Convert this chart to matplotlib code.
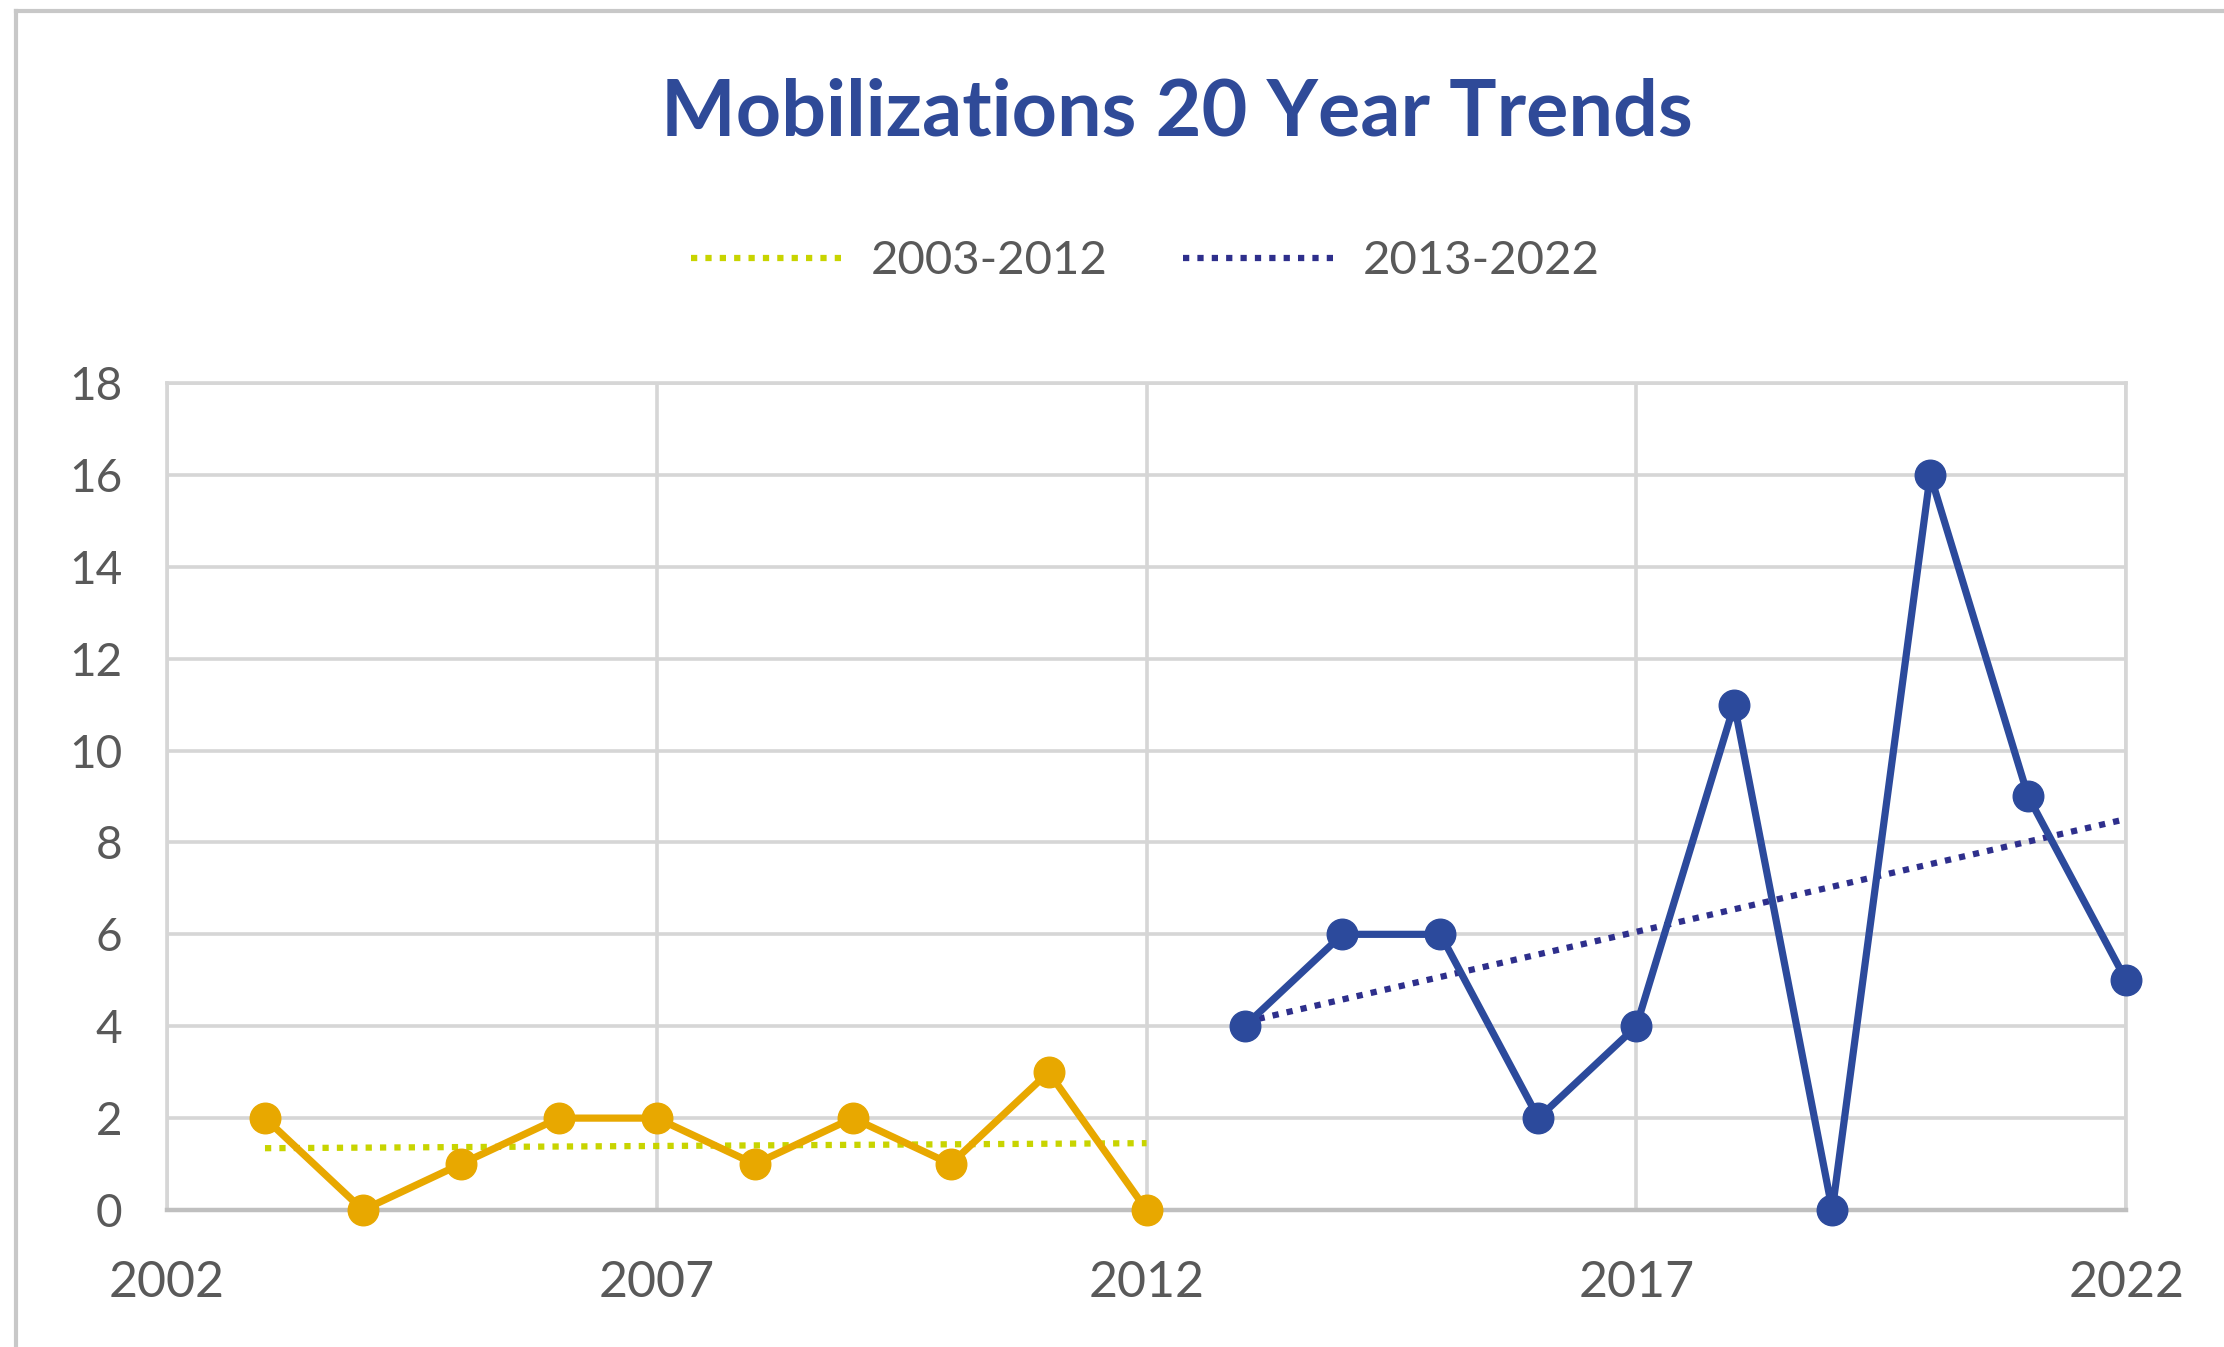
import numpy as np
import matplotlib
matplotlib.use('Agg')
import matplotlib.pyplot as plt
from matplotlib.lines import Line2D

# values
years_a = [2003, 2004, 2005, 2006, 2007, 2008, 2009, 2010, 2011, 2012]
mob_a = [2, 0, 1, 2, 2, 1, 2, 1, 3, 0]
years_b = [2013, 2014, 2015, 2016, 2017, 2018, 2019, 2020, 2021, 2022]
mob_b = [4, 6, 6, 2, 4, 11, 0, 16, 9, 5]
x_ticks = [2002, 2007, 2012, 2017, 2022]
y_ticks = [0, 2, 4, 6, 8, 10, 12, 14, 16, 18]
legend_labels = ['2003-2012', '2013-2022']

gold = '#E8A800'
navy = '#2C4A9C'
trend_a_col = '#C8D400'
trend_b_col = '#2E2F8C'
txt_col = '#595959'

plt.rcParams['font.family'] = ['Lato', 'DejaVu Sans']

fig = plt.figure(figsize=(22.24, 13.47), dpi=100)
ax = fig.add_axes([0.0751, 0.1017, 0.8809, 0.614])

# linear trend lines, like excel
fa = np.polyfit(years_a, mob_a, 1)
fb = np.polyfit(years_b, mob_b, 1)
ax.plot(years_a, np.polyval(fa, years_a), color=trend_a_col, lw=4.5,
        linestyle=(0, (1, 1.3)), zorder=3)
ax.plot(years_b, np.polyval(fb, years_b), color=trend_b_col, lw=4.5,
        linestyle=(0, (1, 1.3)), zorder=3)

ax.plot(years_a, mob_a, color=gold, lw=5.2, marker='o', markersize=22,
        clip_on=False, zorder=4)
ax.plot(years_b, mob_b, color=navy, lw=5.2, marker='o', markersize=22,
        clip_on=False, zorder=4)

ax.set_xlim(2002, 2022)
ax.set_ylim(0, 18)
ax.set_xticks(x_ticks)
ax.set_yticks(y_ticks)
ax.grid(True, color='#D6D6D6', lw=2.6)
ax.set_axisbelow(True)
for s in ['left', 'top', 'right']:
    ax.spines[s].set_color('#D6D6D6')
    ax.spines[s].set_linewidth(2.6)
ax.spines['bottom'].set_color('#BFBFBF')
ax.spines['bottom'].set_linewidth(3.2)
ax.tick_params(axis='both', length=0, colors=txt_col)
ax.tick_params(axis='x', labelsize=36, pad=36)
ax.tick_params(axis='y', labelsize=33, pad=32)

fig.text(0.529, 0.916, 'Mobilizations 20 Year Trends', ha='center', va='center',
         fontsize=57, fontweight='bold', color='#2F4A98')

handles = [Line2D([], [], color=trend_a_col, lw=4.5, linestyle=(0, (1, 1.3))),
           Line2D([], [], color=trend_b_col, lw=4.5, linestyle=(0, (1, 1.3)))]
leg = fig.legend(handles, legend_labels, loc='center', bbox_to_anchor=(0.515, 0.806),
                 ncol=2, frameon=False, fontsize=34, handlelength=3.2,
                 handletextpad=0.6, columnspacing=1.6)
for t in leg.get_texts():
    t.set_color(txt_col)

# outer chart border (top and left visible)
fig.add_artist(Line2D([0.007, 1.0], [0.992, 0.992], color='#C8C8C8', lw=3,
                      transform=fig.transFigure))
fig.add_artist(Line2D([0.007, 0.007], [0.0, 0.992], color='#C8C8C8', lw=3,
                      transform=fig.transFigure))

plt.savefig('out.png', dpi=100)
